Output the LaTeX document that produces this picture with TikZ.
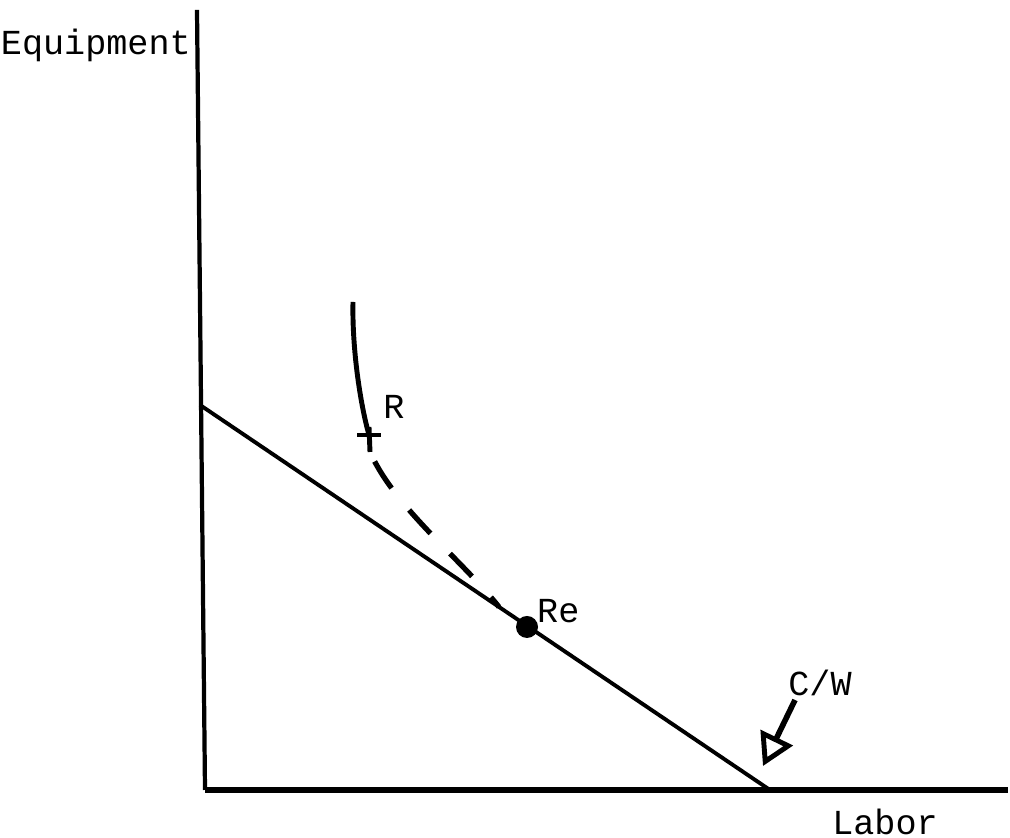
\documentclass[tikz,border=0pt]{standalone}
\usepackage{fontspec}
\setmainfont{Liberation Mono}
\usetikzlibrary{arrows.meta, positioning, calc}
\tikzstyle{axis} = [line width=1.6pt]
\tikzstyle{budget} = [line width=1.1pt]
\tikzstyle{label} = [font=\fontsize{10}{12}\selectfont, inner sep=1pt]
\tikzstyle{arrow} = [line width=1.6pt, -{Triangle[open, length=9pt, width=10pt, line width=1.4pt]}]

\begin{document}
\begin{tikzpicture}
            \useasboundingbox (0,0) rectangle (10.10,8.38);

            % Axes
            \coordinate (top) at (1.97,8.28);
            \coordinate (origin) at (2.05,0.48);
            \coordinate (right) at (10.08,0.48);
            \draw[line width=1.2pt] (top) -- (origin);
            \draw[axis] (origin) -- (right);
            \node[label, anchor=east] (equip) at (1.95,7.93) {Equipment};
            \node[label] (labor) at (8.85,0.16) {Labor};

            % Budget line
            \coordinate (b1) at (2.00,4.33);
            \coordinate (b2) at (7.70,0.48);
            \draw[budget] (b1) -- (b2);

            % Path to equilibrium
            \coordinate (start) at (3.53,5.36);
            \coordinate (r) at (3.69,4.03);
            \coordinate (touch) at (4.99,2.31);
            \draw[line width=1.4pt] (start) .. controls (3.52,4.90) and (3.60,4.35) .. (r);
            \draw[line width=1.4pt] ($(r)+(-0.12,0)$) -- ($(r)+(0.12,0)$);
            \draw[line width=1.4pt] ($(r)+(0,0.08)$) -- ($(r)+(0.01,-0.17)$);
            \draw[line width=1.5pt, dash pattern=on 9pt off 8pt, dash phase=-3pt] ($(r)+(0.01,-0.17)$) .. controls (3.95,3.30) and (4.60,2.80) .. (touch);
            \node[label] (rlab) at (3.94,4.31) {R};

            \node[circle, fill, inner sep=0pt, minimum size=0.22cm] (re) at (5.27,2.11) {};
            \node[label, anchor=west] (relab) at (5.33,2.27) {Re};

            % Cost over wage
            \node[label] (cw) at (8.20,1.55) {C/W};
            \draw[arrow] (7.95,1.38) -- (7.63,0.72);
\end{tikzpicture}
\end{document}
